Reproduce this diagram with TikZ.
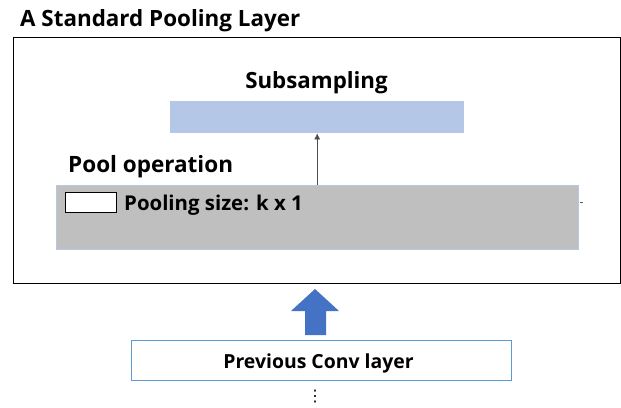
\documentclass[tikz,border=0pt]{standalone}
\usepackage{fontspec}
\setmainfont{Open Sans}
\newfontfamily\symfont{DejaVu Sans}
\usetikzlibrary{arrows.meta}
\definecolor{subblue}{RGB}{180,199,231}
\definecolor{poolgray}{RGB}{191,191,191}
\definecolor{edgeblue}{RGB}{91,155,213}
\definecolor{fatblue}{RGB}{68,114,196}
\newcommand{\fsz}[1]{\fontsize{#1}{#1}\selectfont\bfseries}
\begin{document}
\begin{tikzpicture}[x=1pt,y=-1pt,
    lbl/.style={font=\fsz{21},inner sep=0pt},
    layerbox/.style={draw=edgeblue,line width=0.6pt,inner sep=0pt}]
  \useasboundingbox (0,0) rectangle (621,407);
  % outer frame and title
  \node[lbl,anchor=base west,font=\fsz{22.4}] (title) at (20,26.5) {A Standard Pooling Layer};
  \node[draw=black,line width=1.2pt,minimum width=607pt,minimum height=246pt,inner sep=0pt,anchor=north west] (frame) at (13,37) {};
  % subsampling
  \node[lbl,anchor=base,font=\fsz{22.3}] (subtxt) at (316.5,88) {Subsampling};
  \node[fill=subblue,minimum width=294pt,minimum height=32pt,inner sep=0pt,anchor=north west] (sub) at (170,101) {};
  % pool operation
  \node[lbl,anchor=base west,font=\fsz{22.5}] (pooltxt) at (68,172.5) {Pool operation};
  \node[layerbox,draw=subblue,fill=poolgray,minimum width=522pt,minimum height=64pt,anchor=north west] (pool) at (56,185) {};
  \node[draw=black,fill=white,line width=0.8pt,minimum width=51pt,minimum height=20pt,inner sep=0pt,anchor=north west] (win) at (65,192) {};
  \node[lbl,anchor=base west,font=\fsz{20.4}] (sizetxt) at (124,210) {Pooling size: k x 1};
  \draw[gray!70!black,line width=0.5pt] (pool.east |- win.center) ++(1,0) -- ++(3,0);
  \draw[-{Latex[length=6pt,width=6pt]},black!70,line width=0.6pt] (pool.north -| sub.south) -- (sub.south);
  % previous layer
  \node[layerbox,fill=white,minimum width=380pt,minimum height=40pt,anchor=north west] (prev) at (131,340) {};
  \node[lbl,anchor=base,font=\fsz{19.4}] (prevtxt) at (318.5,368) {Previous Conv layer};
  \coordinate (tip) at (315,289);
  \fill[fatblue] (tip) -- (339,311) -- (326,311) -- (326,335) -- (305,335) -- (305,311) -- (291,311) -- cycle;
  \node[font=\symfont\fontsize{16}{16}\selectfont,inner sep=0pt] (dots) at (315,396.5) {⋮};
\end{tikzpicture}
\end{document}
